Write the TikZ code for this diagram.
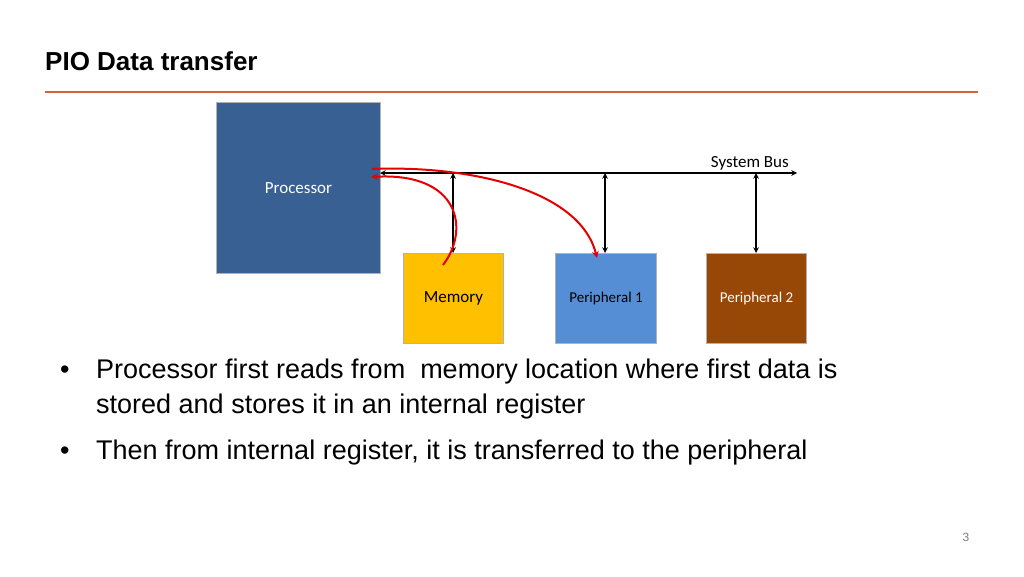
\documentclass[tikz,border=0pt]{standalone}
\usepackage{fontspec}
\setmainfont{Liberation Sans}
\newfontfamily\carl{Carlito}
\begin{document}
\begin{tikzpicture}[x=1pt,y=-1pt,
 box/.style={draw=gray!60,line width=1pt,anchor=north west,inner sep=0,font=\carl\fontsize{17}{20}\selectfont},
 va/.style={<->,>=stealth,line width=1.5pt},
 ra/.style={->,>=stealth,red!90!black,line width=2pt},
 txt/.style={anchor=west,font=\fontsize{27}{32}\selectfont,inner sep=0}]
\useasboundingbox (0,0) rectangle (1024,576);
\node[anchor=west,font=\bfseries\fontsize{26}{30}\selectfont,inner sep=0] (t) at (45,61) {PIO Data transfer};
\draw[color={rgb,255:red,214;green,96;blue,58},line width=1.5pt] (45,92) -- (978,92);
\node[box,fill={rgb,255:red,56;green,96;blue,146},text=white,minimum width=164,minimum height=171] (p) at (216,102) {Processor};
\node[box,fill={rgb,255:red,255;green,192;blue,0},minimum width=100,minimum height=90] (m) at (403,253) {Memory};
\node[box,fill={rgb,255:red,85;green,142;blue,213},minimum width=101,minimum height=90,font=\carl\fontsize{15}{18}\selectfont] (p1) at (555,253) {Peripheral 1};
\node[box,fill={rgb,255:red,151;green,71;blue,6},text=white,minimum width=100,minimum height=90,font=\carl\fontsize{15}{18}\selectfont] (p2) at (706,253) {Peripheral 2};
\coordinate (bl) at (380,173); \coordinate (br) at (797,173);
\draw[va] (bl) -- (br);
\node[anchor=south east,font=\carl\fontsize{17}{20}\selectfont,inner sep=1] (sb) at (790,171) {System Bus};
\foreach \n/\x in {m/453,p1/605,p2/756}{\draw[va] (\x,173) -- (\n.north -| \x,0);}
\coordinate (s1) at (443,265); \coordinate (e1) at (371,177);
\draw[ra] (s1) .. controls (470,230) and (460,172) .. (e1);
\coordinate (s2) at (372,169); \coordinate (e2) at (597,258);
\draw[ra] (s2) .. controls (470,165) and (580,190) .. (e2);
\node[txt] (b1) at (60,372) {•};
\node[txt] (l1) at (96,372) {Processor first reads from\ \ memory location where first data is};
\node[txt] (l2) at (96,407) {stored and stores it in an internal register};
\node[txt] (b2) at (60,453) {•};
\node[txt] (l3) at (96,453) {Then from internal register, it is transferred to the peripheral};
\node[font=\fontsize{12}{14}\selectfont,text=gray] (pg) at (966,537) {3};
\end{tikzpicture}
\end{document}
